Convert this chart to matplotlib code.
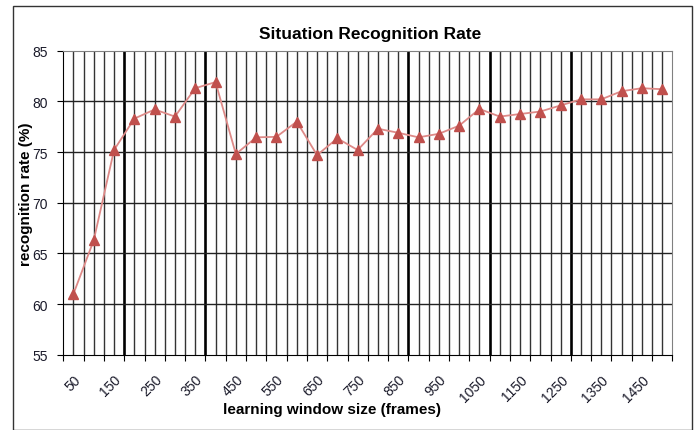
import matplotlib
matplotlib.use("Agg")
import matplotlib.pyplot as plt
import numpy as np
from matplotlib.patches import Rectangle
from matplotlib.transforms import ScaledTranslation

plt.rcParams['font.family'] = ['Liberation Sans', 'DejaVu Sans']

window_sizes = list(range(50, 1501, 50))
recognition_rate = [61.0, 66.3, 75.2, 78.3, 79.2, 78.5, 81.3, 81.9, 74.8, 76.45,
                    76.5, 78.0, 74.7, 76.35, 75.2, 77.3, 76.9, 76.45, 76.8, 77.6,
                    79.25, 78.5, 78.75, 79.0, 79.6, 80.2, 80.2, 81.0, 81.3, 81.2]
y_ticks = [55, 60, 65, 70, 75, 80, 85]
title = "Situation Recognition Rate"
xlabel = "learning window size (frames)"
ylabel = "recognition rate (%)"

W, H = 697, 431
fig = plt.figure(figsize=(W / 100, H / 100), dpi=100)
fig.patches.append(Rectangle((13 / W, 0), (692 - 13) / W, 1 - 7 / H, transform=fig.transFigure,
                             fill=False, edgecolor='#333333', linewidth=1.0))
ax = fig.add_axes([63.3 / W, 1 - 355.7 / H, (672.3 - 63.3) / W, (355.7 - 51.7) / H])

n = len(window_sizes)
x = np.arange(n)

# gridlines at category boundaries and centers (thicker ones mimic the reference rendering)
thick = {2.5, 6.5, 16.5, 20.5, 24.5}
for g in np.arange(-0.5, n - 0.5 + 0.01, 0.5):
    if g in (-0.5, n - 0.5):
        continue
    if g in thick:
        ax.axvline(g, color='black', linewidth=1.9, zorder=1)
    else:
        ax.axvline(g, color='#333333', linewidth=1.0, zorder=1)
for yv in y_ticks[1:-1]:
    ax.axhline(yv, color='#222222', linewidth=1.0, zorder=1)

ax.plot(x, recognition_rate, color='#DE8A88', linewidth=1.3, zorder=3)
ax.plot(x, recognition_rate, linestyle='none', marker='^', markersize=6.5,
        color='#C0504D', markeredgecolor='#C0504D', zorder=4)

ax.set_xlim(-0.5, n - 0.5)
ax.set_ylim(55, 85)
ax.set_yticks(y_ticks)
ax.set_yticklabels([str(v) for v in y_ticks], fontsize=10, color='#1a1a2a')

ax.set_xticks(np.arange(-0.5, n - 0.5 + 0.01, 1.0))
ax.set_xticklabels([])
ax.set_xticks(x[::2], minor=True)
labels = ax.set_xticklabels([str(w) for w in window_sizes[::2]], minor=True, rotation=45,
                            ha='right', va='top', rotation_mode='anchor', fontsize=10,
                            color='#1a1a2a')
offset = ScaledTranslation(1 / 100, 0, fig.dpi_scale_trans)
for lab in labels:
    lab.set_transform(lab.get_transform() + offset)
ax.tick_params(axis='x', which='major', length=4, direction='out', color='black')
ax.tick_params(axis='x', which='minor', length=0, pad=12.5)
ax.tick_params(axis='y', length=4, direction='out', color='black', pad=7)

for s in ['top', 'right']:
    ax.spines[s].set_color('#808080')
for s in ['left', 'bottom']:
    ax.spines[s].set_color('black')

fig.text(370 / W, 1 - 34 / H, title, fontsize=12.5, fontweight='bold', ha='center', va='center')
fig.text(332 / W, 1 - 410 / H, xlabel, fontsize=11, fontweight='bold', ha='center', va='center')
fig.text(26.5 / W, 1 - 194.5 / H, ylabel, fontsize=11, fontweight='bold', ha='center',
         va='center', rotation=90)

fig.savefig("out.png", dpi=100)
